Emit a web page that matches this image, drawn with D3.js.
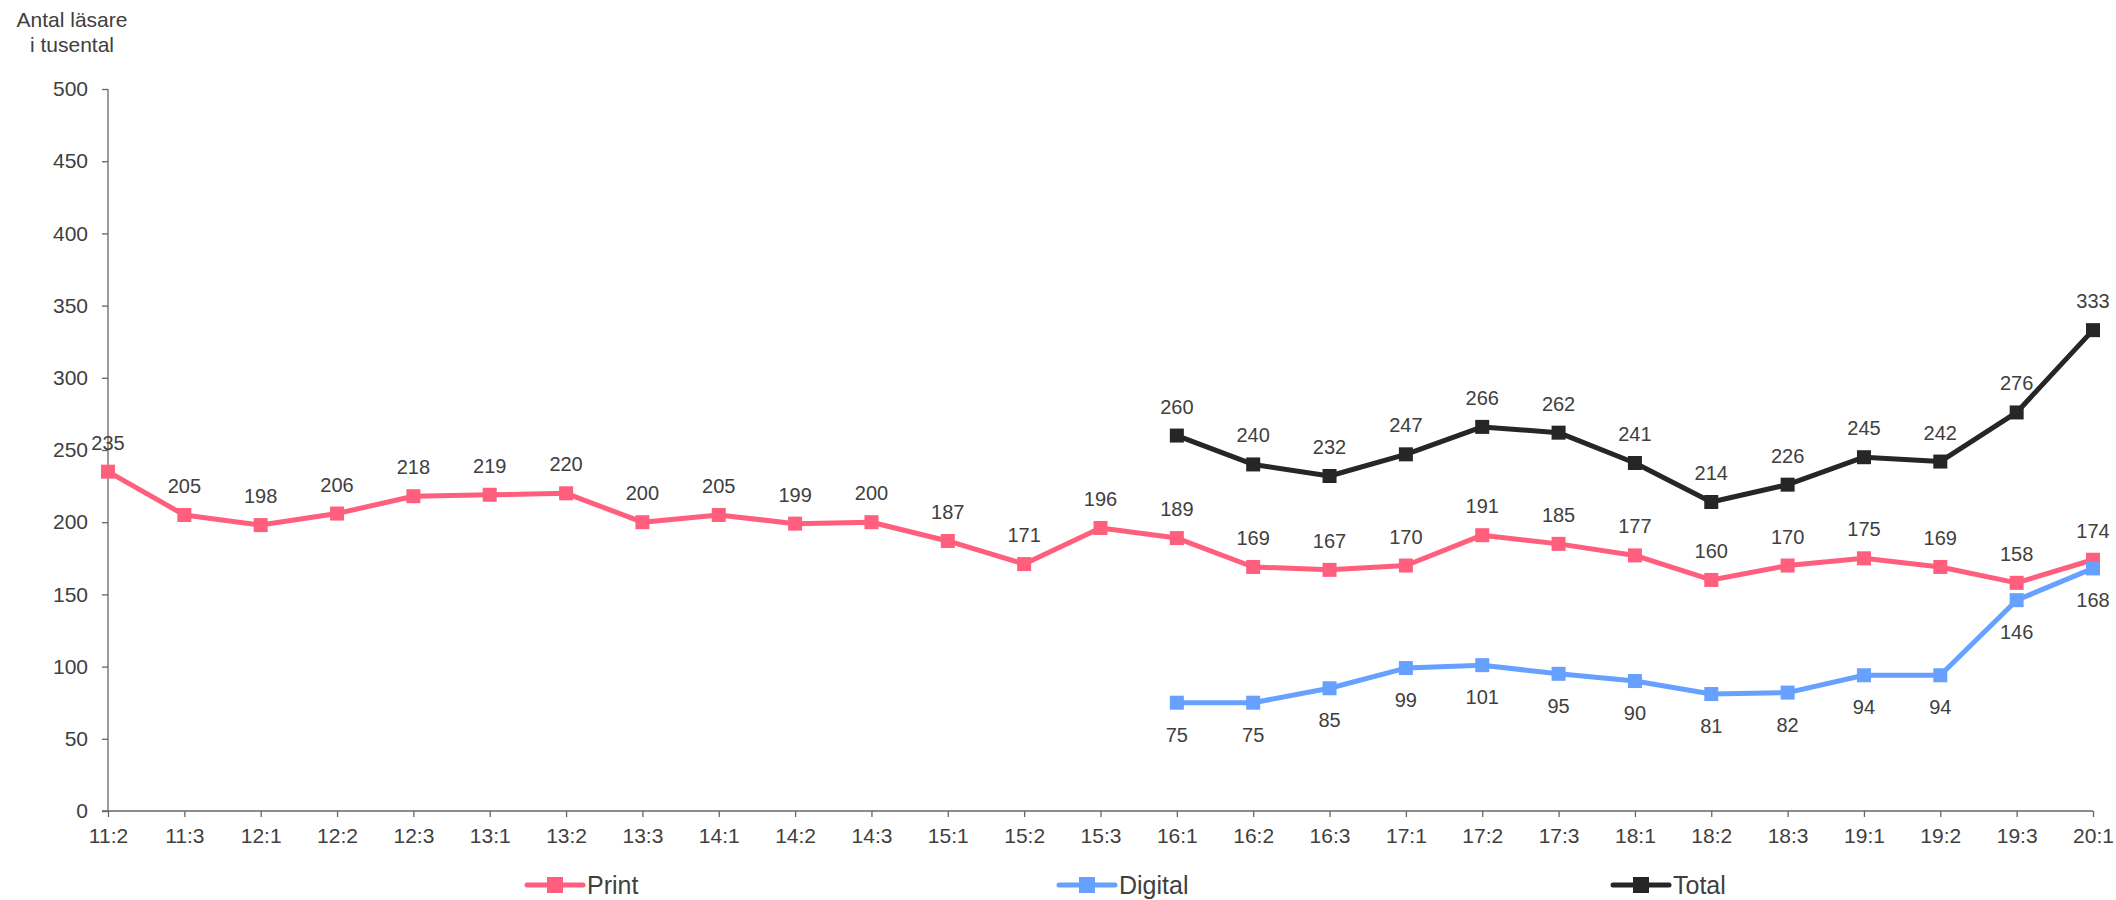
<!DOCTYPE html>
<html><head><meta charset="utf-8">
<script src="https://cdn.jsdelivr.net/npm/d3@7"></script>
<style>body{margin:0;background:#fff}svg{display:block}text{font-family:"Liberation Sans",Arial,sans-serif;fill:#404040}</style>
</head><body>
<svg id="c" width="2116" height="900"></svg>
<script>
const categories = ["11:2","11:3","12:1","12:2","12:3","13:1","13:2","13:3","14:1","14:2","14:3","15:1","15:2","15:3","16:1","16:2","16:3","17:1","17:2","17:3","18:1","18:2","18:3","19:1","19:2","19:3","20:1"];
const printValues = [235,205,198,206,218,219,220,200,205,199,200,187,171,196,189,169,167,170,191,185,177,160,170,175,169,158,174];
const digitalCats = ["16:1","16:2","16:3","17:1","17:2","17:3","18:1","18:2","18:3","19:1","19:2","19:3","20:1"];
const digitalValues = [75,75,85,99,101,95,90,81,82,94,94,146,168];
const totalValues = [260,240,232,247,266,262,241,214,226,245,242,276,333];
const yTicks = [0,50,100,150,200,250,300,350,400,450,500];
const seriesNames = ["Print","Digital","Total"];
const colors = {Print:"#ff5f7c", Digital:"#66a1ff", Total:"#262626"};

const svg = d3.select("#c");
const x = d3.scalePoint().domain(categories).range([108, 2093]);
const y = d3.scaleLinear().domain([0,500]).range([811, 89]);

// axes
const ya = svg.append("g").attr("transform","translate(108,0)")
  .call(d3.axisLeft(y).tickValues(yTicks).tickSize(6).tickPadding(14));
const xa = svg.append("g").attr("transform","translate(0,811)")
  .call(d3.axisBottom(x).tickSize(6).tickPadding(11));
[ya,xa].forEach(a=>{
  a.selectAll("path,line").attr("stroke","#666").attr("stroke-width",1.3);
  a.selectAll("text").attr("font-size",21).attr("fill","#404040").attr("font-family","Liberation Sans, Arial, sans-serif");
});
ya.select(".domain").attr("d","M0,811V89");
xa.select(".domain").attr("d","M102,0H2093");

// title
const t = svg.append("text").attr("font-size",21).attr("text-anchor","middle");
t.append("tspan").attr("x",72).attr("y",27).text("Antal läsare");
t.append("tspan").attr("x",72).attr("y",52).text("i tusental");

const series = [
  {name:"Print", data: categories.map((c,i)=>({c, v: printValues[i]})), pos:"above"},
  {name:"Digital", data: digitalCats.map((c,i)=>({c, v: digitalValues[i]})), pos:"below"},
  {name:"Total", data: digitalCats.map((c,i)=>({c, v: totalValues[i]})), pos:"above"}
];
const line = d3.line().x(d=>x(d.c)).y(d=>y(d.v));
series.forEach(s=>{
  const g = svg.append("g");
  g.append("path").attr("d", line(s.data)).attr("fill","none")
    .attr("stroke", colors[s.name]).attr("stroke-width",5).attr("stroke-linejoin","round");
  g.selectAll("rect").data(s.data).join("rect")
    .attr("x", d=>x(d.c)-7).attr("y", d=>y(d.v)-7).attr("width",14).attr("height",14)
    .attr("fill", colors[s.name]);
});
series.forEach(s=>{
  svg.append("g").selectAll("text").data(s.data).join("text")
    .attr("x", d=>x(d.c)).attr("y", d=> s.pos==="above" ? y(d.v)-22 : y(d.v)+39)
    .attr("text-anchor","middle").attr("font-size",20).text(d=>d.v);
});

// legend
const legendPos = {Print:527, Digital:1059, Total:1613};
seriesNames.forEach(n=>{
  const lx = legendPos[n], ly = 885;
  const g = svg.append("g");
  g.append("line").attr("x1",lx).attr("x2",lx+56).attr("y1",ly).attr("y2",ly)
    .attr("stroke",colors[n]).attr("stroke-width",5).attr("stroke-linecap","round");
  g.append("rect").attr("x",lx+20).attr("y",ly-8).attr("width",16).attr("height",16).attr("fill",colors[n]);
  g.append("text").attr("x",lx+60).attr("y",ly+9).attr("font-size",25).text(n);
});
</script>
</body></html>
